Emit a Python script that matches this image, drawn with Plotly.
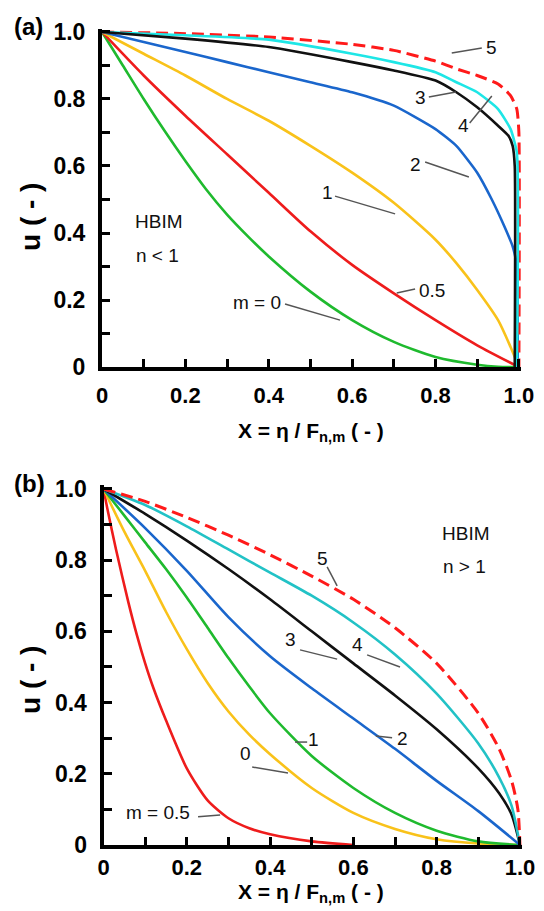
import plotly.graph_objects as go

# ---------------- Panel (a): HBIM, n < 1 ----------------
A_M0_X = [0, 0.05, 0.1, 0.15, 0.2, 0.25, 0.3, 0.35, 0.4, 0.5, 0.6, 0.7, 0.8, 0.9, 0.95, 1.0]
A_M0_U = [1, 0.9, 0.8, 0.705, 0.615, 0.53, 0.455, 0.39, 0.33, 0.225, 0.14, 0.075, 0.03, 0.007, 0.001, 0]

A_M05_X = [0, 0.1, 0.2, 0.3, 0.4, 0.5, 0.6, 0.7, 0.8, 0.9, 1.0]
A_M05_U = [1, 0.87, 0.75, 0.635, 0.52, 0.405, 0.305, 0.22, 0.14, 0.065, 0]

A_M1_X = [0, 0.1, 0.2, 0.3, 0.4, 0.5, 0.6, 0.7, 0.8, 0.85, 0.9, 0.95, 0.98, 1.0]
A_M1_U = [1, 0.935, 0.87, 0.8, 0.735, 0.66, 0.58, 0.49, 0.38, 0.31, 0.23, 0.14, 0.06, 0]

A_M2_X = [0, 0.1, 0.2, 0.3, 0.4, 0.5, 0.6, 0.7, 0.8, 0.85, 0.9, 0.935, 0.965, 0.985, 0.995, 0.997]
A_M2_U = [1, 0.97, 0.94, 0.91, 0.88, 0.85, 0.82, 0.78, 0.71, 0.66, 0.58, 0.5, 0.42, 0.36, 0.3, 0]

A_M3_X = [0, 0.2, 0.4, 0.6, 0.7, 0.8, 0.85, 0.9, 0.95, 0.975, 0.985, 0.99, 0.99]
A_M3_U = [1, 0.98, 0.955, 0.91, 0.885, 0.855, 0.82, 0.775, 0.72, 0.69, 0.66, 0.6, 0]

A_M4_X = [0, 0.2, 0.4, 0.6, 0.7, 0.8, 0.85, 0.9, 0.95, 0.98, 0.995, 0.995]
A_M4_U = [1, 0.99, 0.977, 0.935, 0.91, 0.88, 0.85, 0.82, 0.77, 0.71, 0.64, 0]

A_M5_X = [0, 0.2, 0.4, 0.6, 0.7, 0.8, 0.85, 0.9, 0.95, 0.98, 0.995, 1.0, 1.0]
A_M5_U = [1, 0.995, 0.985, 0.963, 0.945, 0.913, 0.89, 0.87, 0.845, 0.81, 0.77, 0.7, 0]

# ---------------- Panel (b): HBIM, n > 1 ----------------
B_M05_X = [0, 0.01, 0.03, 0.06, 0.08, 0.1, 0.12, 0.15, 0.2, 0.25, 0.3, 0.35, 0.4, 0.5, 0.6]
B_M05_U = [1, 0.94, 0.83, 0.68, 0.59, 0.51, 0.44, 0.35, 0.215, 0.125, 0.075, 0.047, 0.03, 0.01, 0]

B_M0_X = [0, 0.05, 0.1, 0.15, 0.2, 0.25, 0.3, 0.35, 0.4, 0.5, 0.6, 0.7, 0.8, 0.9, 1.0]
B_M0_U = [1, 0.88, 0.77, 0.655, 0.55, 0.455, 0.375, 0.31, 0.255, 0.16, 0.09, 0.045, 0.016, 0.004, 0]

B_M1_X = [0, 0.05, 0.1, 0.15, 0.2, 0.25, 0.3, 0.35, 0.4, 0.5, 0.6, 0.7, 0.8, 0.9, 1.0]
B_M1_U = [1, 0.925, 0.85, 0.775, 0.695, 0.61, 0.525, 0.445, 0.37, 0.25, 0.16, 0.09, 0.04, 0.01, 0]

B_M2_X = [0, 0.1, 0.2, 0.3, 0.4, 0.5, 0.6, 0.7, 0.8, 0.9, 1.0]
B_M2_U = [1, 0.89, 0.77, 0.64, 0.53, 0.44, 0.355, 0.27, 0.18, 0.095, 0]

B_M3_X = [0, 0.1, 0.2, 0.3, 0.4, 0.5, 0.6, 0.7, 0.8, 0.9, 0.95, 0.98, 1.0]
B_M3_U = [1, 0.93, 0.855, 0.775, 0.69, 0.6, 0.51, 0.42, 0.325, 0.215, 0.145, 0.085, 0]

B_M4_X = [0, 0.1, 0.2, 0.3, 0.4, 0.5, 0.6, 0.7, 0.8, 0.9, 0.95, 0.98, 1.0]
B_M4_U = [1, 0.955, 0.895, 0.83, 0.765, 0.70, 0.625, 0.535, 0.425, 0.285, 0.19, 0.11, 0]

B_M5_X = [0, 0.1, 0.2, 0.3, 0.4, 0.5, 0.6, 0.7, 0.8, 0.9, 0.95, 0.98, 0.995, 1.0]
B_M5_U = [1, 0.965, 0.92, 0.87, 0.815, 0.755, 0.69, 0.61, 0.51, 0.37, 0.27, 0.18, 0.1, 0]

TICK_VALS = [0, 0.1, 0.2, 0.3, 0.4, 0.5, 0.6, 0.7, 0.8, 0.9, 1.0]
TICK_TEXT = ["0", " ", "0.2", " ", "0.4", " ", "0.6", " ", "0.8", " ", "1.0"]

# ---------------- styles ----------------
GREEN = "#1fba2e"
RED = "#ee1c1c"
YELLOW = "#f9c21a"
BLUE = "#1a66cc"
BLACK = "#111111"
CYAN_A = "#1ee6e6"
CYAN_B = "#22c2c6"
DASHRED = "#ff1a1a"
FONT = "Liberation Sans"

fig = go.Figure()

def add(x, u, color, xa, ya, dash=None, width=2.6, smooth=0.7):
    fig.add_trace(go.Scatter(x=x, y=u, mode="lines", xaxis=xa, yaxis=ya,
                             line=dict(color=color, width=width, dash=dash,
                                       shape="spline", smoothing=smooth),
                             showlegend=False, hoverinfo="skip"))

# panel a
add(A_M0_X, A_M0_U, GREEN, "x", "y")
add(A_M05_X, A_M05_U, RED, "x", "y")
add(A_M1_X, A_M1_U, YELLOW, "x", "y")
add(A_M2_X, A_M2_U, BLUE, "x", "y", smooth=0.5)
add(A_M5_X, A_M5_U, DASHRED, "x", "y", dash="12px,6px", width=3, smooth=0.5)
add(A_M4_X, A_M4_U, CYAN_A, "x", "y", smooth=0.5)
add(A_M3_X, A_M3_U, BLACK, "x", "y", smooth=0.5)

# panel b
add(B_M05_X, B_M05_U, RED, "x2", "y2")
add(B_M0_X, B_M0_U, YELLOW, "x2", "y2")
add(B_M1_X, B_M1_U, GREEN, "x2", "y2")
add(B_M2_X, B_M2_U, BLUE, "x2", "y2")
add(B_M3_X, B_M3_U, BLACK, "x2", "y2")
add(B_M4_X, B_M4_U, CYAN_B, "x2", "y2")
add(B_M5_X, B_M5_U, DASHRED, "x2", "y2", dash="12px,6px", width=3)

def xax(domain, anchor, standoff):
    return dict(domain=domain, anchor=anchor, range=[0, 1.005], showline=True, linewidth=4,
                linecolor="black", ticks="inside", ticklen=8, tickwidth=3, tickcolor="black",
                tickvals=TICK_VALS, ticktext=TICK_TEXT, showgrid=False, zeroline=False,
                tickfont=dict(family=FONT, size=22, color="black", weight="bold"),
                ticklabelstandoff=standoff, automargin=False, fixedrange=True)

def yax(domain, anchor):
    return dict(domain=domain, anchor=anchor, range=[0, 1.01], showline=True, linewidth=4,
                linecolor="black", ticks="inside", ticklen=8, tickwidth=3, tickcolor="black",
                tickvals=TICK_VALS, ticktext=TICK_TEXT, showgrid=False, zeroline=False,
                tickfont=dict(family=FONT, size=23, color="black", weight="bold"),
                ticklabelstandoff=8, automargin=False, fixedrange=True)

fig.update_layout(
    width=544, height=911, autosize=False, template="none",
    margin=dict(l=0, r=0, t=0, b=0),
    paper_bgcolor="white", plot_bgcolor="white",
    xaxis=xax([0.1875, 0.9577], "y", 6),
    yaxis=yax([0.5971, 0.9686], "x"),
    xaxis2=xax([0.1903, 0.9596], "y2", 0),
    yaxis2=yax([0.0725, 0.4672], "x2"),
)

ann = []
def label(text, x, y, xr, yr, size=19, **kw):
    ann.append(dict(text=text, x=x, y=y, xref=xr, yref=yr, showarrow=False,
                    font=dict(family=FONT, size=size, color="#111"), **kw))

# panel a labels
label("5", 0.935, 0.955, "x", "y")
label("3", 0.763, 0.803, "x", "y")
label("4", 0.868, 0.722, "x", "y")
label("2", 0.751, 0.603, "x", "y")
label("1", 0.542, 0.522, "x", "y")
label("0.5", 0.791, 0.227, "x", "y")
label("m = 0", 0.372, 0.194, "x", "y")
label("HBIM", 0.137, 0.433, "x", "y")
label("n < 1", 0.134, 0.334, "x", "y")
# panel b labels
label("5", 0.525, 0.806, "x2", "y2")
label("4", 0.611, 0.562, "x2", "y2")
label("3", 0.450, 0.576, "x2", "y2")
label("2", 0.717, 0.298, "x2", "y2")
label("1", 0.505, 0.295, "x2", "y2")
label("0", 0.340, 0.258, "x2", "y2")
label("m = 0.5", 0.131, 0.090, "x2", "y2")
label("HBIM", 0.870, 0.876, "x2", "y2")
label("n > 1", 0.866, 0.781, "x2", "y2")

# panel letters and axis titles (paper coords)
def ptext(text, px, py, size, angle=0):
    ann.append(dict(text=text, x=px / 544, y=1 - py / 911, xref="paper", yref="paper",
                    showarrow=False, textangle=angle, xanchor="center", yanchor="middle",
                    font=dict(family=FONT, size=size, color="black")))

ptext("<b>(a)</b>", 28, 27, 24)
ptext("<b>(b)</b>", 29, 483, 24)
ptext("<b>u ( - )</b>", 30, 217, 28, -90)
ptext("<b>u ( - )</b>", 30, 680, 28, -90)
ptext("<b>X = η / F<sub>n,m</sub> ( - )</b>", 311, 432, 21)
ptext("<b>X = η / F<sub>n,m</sub> ( - )</b>", 311, 893, 21)

fig.update_layout(annotations=ann)

shapes = []
def leader(x0, y0, x1, y1, xr, yr):
    shapes.append(dict(type="line", x0=x0, y0=y0, x1=x1, y1=y1, xref=xr, yref=yr,
                       line=dict(color="#555", width=1.5)))

leader(0.839, 0.937, 0.911, 0.952, "x", "y")
leader(0.784, 0.806, 0.849, 0.821, "x", "y")
leader(0.882, 0.728, 0.935, 0.809, "x", "y")
leader(0.775, 0.612, 0.880, 0.567, "x", "y")
leader(0.559, 0.510, 0.703, 0.457, "x", "y")
leader(0.707, 0.221, 0.751, 0.233, "x", "y")
leader(0.439, 0.188, 0.571, 0.140, "x", "y")

leader(0.537, 0.781, 0.561, 0.728, "x2", "y2")
leader(0.633, 0.534, 0.712, 0.500, "x2", "y2")
leader(0.472, 0.548, 0.561, 0.522, "x2", "y2")
leader(0.654, 0.306, 0.693, 0.301, "x2", "y2")
leader(0.460, 0.289, 0.489, 0.289, "x2", "y2")
leader(0.357, 0.219, 0.443, 0.202, "x2", "y2")
leader(0.227, 0.079, 0.280, 0.084, "x2", "y2")

fig.update_layout(shapes=shapes)

fig.write_html("out.html")
